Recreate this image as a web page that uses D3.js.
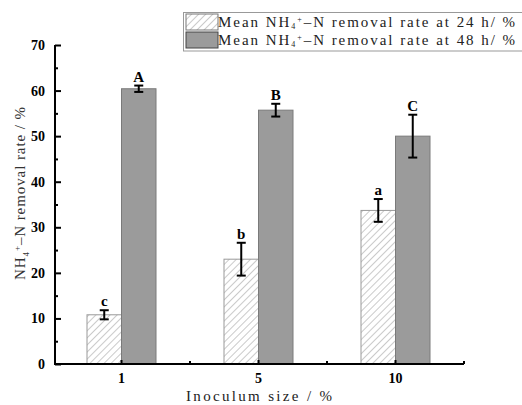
<!DOCTYPE html>
<html><head><meta charset="utf-8">
<script src="https://cdn.jsdelivr.net/npm/d3@7"></script>
<style>body{margin:0;background:#fff}svg{display:block}</style>
</head><body>
<svg id="c" width="522" height="405"></svg>
<script>
const categories = ["1", "5", "10"];
const series = ["24 h", "48 h"];
const mean24 = [10.8, 23.0, 33.7];
const err24 = [1.0, 3.6, 2.5];
const mean48 = [60.4, 55.7, 50.0];
const err48 = [0.7, 1.4, 4.7];
const letters24 = ["c", "b", "a"];
const letters48 = ["A", "B", "C"];
const yTicks = [0, 10, 20, 30, 40, 50, 60, 70];

(function () {
const svg = d3.select("#c");
const mLeft = 55, mRight = 464, mTop = 45, mBottom = 364;

const x = d3.scaleBand().domain(categories).range([53, 464]).padding(0);
const barW = 34.5;
const po = (x.bandwidth() / barW - 2) / 2;
const x1 = d3.scaleBand().domain(series).range([0, x.bandwidth()]).paddingInner(0).paddingOuter(po);
const y = d3.scaleLinear().domain([0, 70]).range([mBottom, mTop]);

const defs = svg.append("defs");
const pat = defs.append("pattern").attr("id", "hatch").attr("patternUnits", "userSpaceOnUse")
  .attr("width", 5).attr("height", 5).attr("patternTransform", "rotate(45)");
pat.append("rect").attr("width", 5).attr("height", 5).attr("fill", "#fff");
pat.append("line").attr("x1", 0).attr("y1", 0).attr("x2", 0).attr("y2", 5)
  .attr("stroke", "#8a8a8a").attr("stroke-width", 0.9);

const data = [];
categories.forEach((c, i) => {
  data.push({c, s: series[0], v: mean24[i], e: err24[i], l: letters24[i]});
  data.push({c, s: series[1], v: mean48[i], e: err48[i], l: letters48[i]});
});

const g = svg.append("g");
g.selectAll("rect.bar").data(data).join("rect").attr("class", "bar")
  .attr("x", d => x(d.c) + x1(d.s))
  .attr("width", x1.bandwidth())
  .attr("y", d => y(d.v))
  .attr("height", d => y(0) - y(d.v))
  .attr("fill", d => d.s === series[0] ? "url(#hatch)" : "#9b9b9b")
  .attr("stroke", d => d.s === series[0] ? "#9a9a9a" : "#7a7a7a")
  .attr("stroke-width", 1);

const cx = d => x(d.c) + x1(d.s) + x1.bandwidth() / 2;
const eg = g.selectAll("g.err").data(data).join("g").attr("class", "err")
  .attr("stroke", "#000").attr("stroke-width", 2);
eg.append("line").attr("x1", cx).attr("x2", cx).attr("y1", d => y(d.v + d.e)).attr("y2", d => y(d.v - d.e));
eg.append("line").attr("x1", d => cx(d) - 4.5).attr("x2", d => cx(d) + 4.5).attr("y1", d => y(d.v + d.e)).attr("y2", d => y(d.v + d.e));
eg.append("line").attr("x1", d => cx(d) - 4.5).attr("x2", d => cx(d) + 4.5).attr("y1", d => y(d.v - d.e)).attr("y2", d => y(d.v - d.e));

g.selectAll("text.lab").data(data).join("text").attr("class", "lab")
  .attr("x", cx).attr("y", d => y(d.v + d.e) - 4)
  .attr("text-anchor", "middle")
  .attr("font-family", "Liberation Serif").attr("font-weight", "bold").attr("font-size", 15)
  .text(d => d.l);

const yAxis = svg.append("g").attr("transform", `translate(${mLeft},0)`)
  .call(d3.axisLeft(y).tickValues(yTicks).tickSizeInner(-6).tickSizeOuter(0).tickPadding(10));
svg.append("g").attr("transform", `translate(${mLeft},0)`)
  .call(d3.axisLeft(y).tickValues(d3.range(5, 70, 10)).tickSizeInner(-3).tickSizeOuter(0).tickFormat(""))
  .call(a => a.select(".domain").remove());
yAxis.select(".domain").remove();
yAxis.selectAll("text").attr("font-family", "Liberation Serif").attr("font-weight", "bold").attr("font-size", 14).attr("fill", "#000");
svg.selectAll(".tick line").attr("stroke", "#000").attr("stroke-width", 2);

const xAxis = svg.append("g").attr("transform", `translate(0,${mBottom})`)
  .call(d3.axisBottom(x).tickSizeInner(-4).tickSizeOuter(0).tickPadding(9));
xAxis.select(".domain").remove();
xAxis.selectAll("text").attr("font-family", "Liberation Serif").attr("font-weight", "bold").attr("font-size", 14).attr("fill", "#000");
xAxis.selectAll(".tick line").attr("stroke", "#000").attr("stroke-width", 2);
const bounds = categories.slice(1).map(c => x(c)).concat([x.range()[1]]);
svg.append("g").selectAll("line").data(bounds).join("line")
  .attr("x1", d => d).attr("x2", d => d).attr("y1", mBottom).attr("y2", mBottom - 3)
  .attr("stroke", "#000").attr("stroke-width", 2);

svg.append("line").attr("x1", mLeft).attr("x2", mLeft).attr("y1", mTop).attr("y2", mBottom + 1)
  .attr("stroke", "#000").attr("stroke-width", 2);
svg.append("line").attr("x1", mLeft - 1).attr("x2", mRight).attr("y1", mBottom).attr("y2", mBottom)
  .attr("stroke", "#000").attr("stroke-width", 2);

svg.append("text").attr("x", 186).attr("y", 401)
  .attr("font-family", "Liberation Serif").attr("font-size", 15).attr("fill", "#222")
  .attr("textLength", 146).attr("lengthAdjust", "spacing")
  .text("Inoculum size / %");
const yt = svg.append("text").attr("transform", "translate(25,280) rotate(-90)")
  .attr("font-family", "Liberation Serif").attr("font-size", 15).attr("fill", "#333")
  .attr("textLength", 173).attr("lengthAdjust", "spacing");
yt.append("tspan").text("NH");
yt.append("tspan").attr("font-size", 9).attr("dy", 4).text("4");
yt.append("tspan").attr("font-size", 9).attr("dy", -9).text("+");
yt.append("tspan").attr("dy", 5).text("–N removal rate / %");

const lg = svg.append("g");
lg.append("rect").attr("x", 183.5).attr("y", 12.5).attr("width", 345).attr("height", 38.5)
  .attr("fill", "#fff").attr("stroke", "#999").attr("stroke-width", 1);
const fills = ["url(#hatch)", "#9b9b9b"];
const strokes = ["#777", "#444"];
const labelsH = ["24", "48"];
series.forEach((s, i) => {
  const yy = 14 + i * 18;
  lg.append("rect").attr("x", 186).attr("y", yy).attr("width", 32).attr("height", 16)
    .attr("fill", fills[i]).attr("stroke", strokes[i]).attr("stroke-width", 1);
  const t = lg.append("text").attr("x", 218).attr("y", yy + 13)
    .attr("font-family", "Liberation Serif").attr("font-size", 15).attr("fill", "#222")
    .attr("textLength", 297).attr("lengthAdjust", "spacing");
  t.append("tspan").text("Mean NH");
  t.append("tspan").attr("font-size", 8).attr("dy", 2).text("4");
  t.append("tspan").attr("font-size", 8).attr("dy", -7).text("+");
  t.append("tspan").attr("dy", 5).text("–N removal rate at " + labelsH[i] + " h/ %");
});
})();
</script>
</body></html>
